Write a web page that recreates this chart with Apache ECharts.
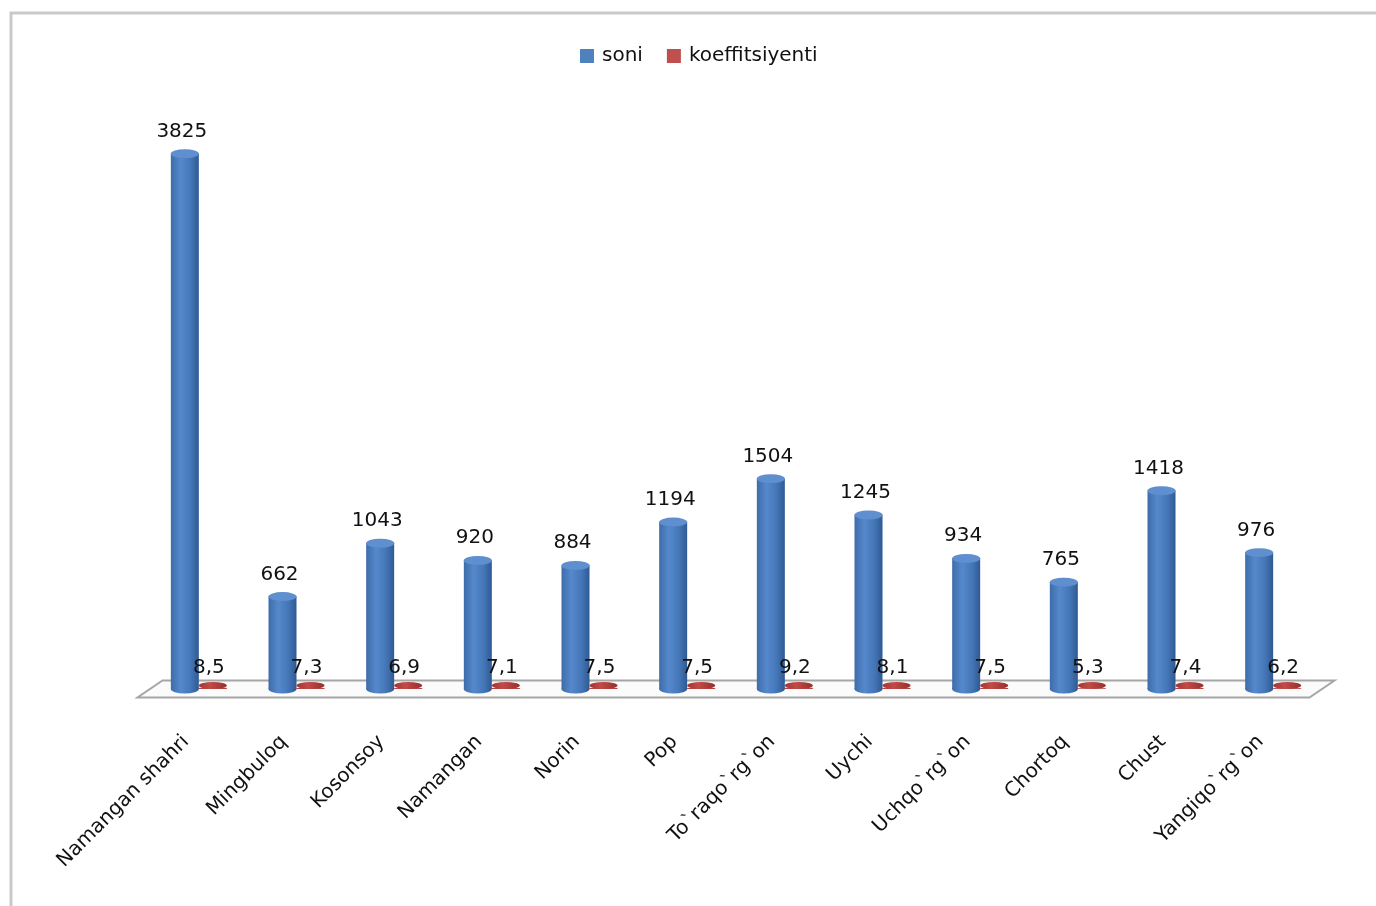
<!DOCTYPE html>
<html>
<head>
<meta charset="utf-8">
<script src="https://cdn.jsdelivr.net/npm/echarts@6/dist/echarts.min.js"></script>
<style>
html,body{margin:0;padding:0;background:#fff;}
#chart{width:1376px;height:906px;}
</style>
</head>
<body>
<div id="chart"></div>
<script>
const categories = ['Namangan shahri','Mingbuloq','Kosonsoy','Namangan','Norin','Pop','To`raqo`rg`on','Uychi','Uchqo`rg`on','Chortoq','Chust','Yangiqo`rg`on'];
const soni = [3825, 662, 1043, 920, 884, 1194, 1504, 1245, 934, 765, 1418, 976];
const koeffitsiyenti = [8.5, 7.3, 6.9, 7.1, 7.5, 7.5, 9.2, 8.1, 7.5, 5.3, 7.4, 6.2];

const FONT = '"DejaVu Sans", sans-serif';
const FS = 20;
const BW = 28;
const chart = echarts.init(document.getElementById('chart'));

const blueGrad = new echarts.graphic.LinearGradient(0,0,1,0,[
  {offset:0, color:'#3d6ca9'},
  {offset:0.35, color:'#5589cc'},
  {offset:0.7, color:'#4577b8'},
  {offset:1, color:'#2f5a93'}
]);
const redGrad = new echarts.graphic.LinearGradient(0,0,1,0,[
  {offset:0, color:'#a33532'},
  {offset:0.4, color:'#c24b48'},
  {offset:1, color:'#962f2c'}
]);

chart.setOption({
  animation:false,
  legend:{
    top:41, left:575, itemWidth:14, itemHeight:14, itemGap:24,
    textStyle:{fontFamily:FONT, fontSize:FS, color:'#111', padding:[0,0,0,3]},
    data:[{name:'soni', icon:'rect', itemStyle:{color:'#4f81bd'}},
          {name:'koeffitsiyenti', icon:'rect', itemStyle:{color:'#c0504d'}}]
  },
  grid:{left:150, right:54, top:129, bottom:217},
  xAxis:{
    type:'category', data:categories,
    axisLine:{show:false}, axisTick:{show:false},
    axisLabel:{interval:0, rotate:45, margin:37, padding:[0,18,0,0], fontFamily:FONT, fontSize:FS, color:'#111'}
  },
  yAxis:{type:'value', min:0, max:4000, show:false, splitLine:{show:false}},
  series:[
    {
      name:'soni', type:'bar', data:soni, barWidth:BW, barGap:'0%', z:3,
      itemStyle:{color:blueGrad},
      label:{show:true, position:'top', distance:12, offset:[-3,0], fontFamily:FONT, fontSize:FS, color:'#111'}
    },
    {
      name:'koeffitsiyenti', type:'bar', data:koeffitsiyenti, barWidth:BW, z:3,
      itemStyle:{color:'#b8433f'},
      label:{show:true, position:'top', distance:10, offset:[-4,0], fontFamily:FONT, fontSize:FS, color:'#111',
        formatter:p=>String(p.value).replace('.',',')}
    },
    {
      name:'soni', type:'pictorialBar', data:soni, barWidth:BW, barGap:'-100%', z:4,
      symbol:'circle', symbolSize:[BW,9], symbolPosition:'end', symbolOffset:[-BW/2,'-50%'],
      itemStyle:{color:'#5f8fcf', borderColor:'#3d6ca9', borderWidth:1}
    },
    {
      name:'soni', type:'pictorialBar', data:soni, barWidth:BW, barGap:'-100%', z:2,
      symbol:'circle', symbolSize:[BW,9], symbolPosition:'start', symbolOffset:[-BW/2,'50%'],
      itemStyle:{color:blueGrad}
    },
    {
      name:'koeffitsiyenti', type:'pictorialBar', data:koeffitsiyenti, barWidth:BW, barGap:'-100%', z:4,
      symbol:'circle', symbolSize:[BW,7], symbolPosition:'start', symbolOffset:[BW/2,'0%'],
      itemStyle:{color:redGrad}
    }
  ]
});

// decorative frame and floor, placed from the axes' own scales
const x0 = chart.convertToPixel({xAxisIndex:0}, 0);
const x1 = chart.convertToPixel({xAxisIndex:0}, 1);
const xn = chart.convertToPixel({xAxisIndex:0}, categories.length-1);
const band = x1 - x0;
const xL = x0 - band/2, xR = xn + band/2;
const y0 = chart.convertToPixel({yAxisIndex:0}, 0);
const dx = 12.5, dy = 8.5;
chart.setOption({
  graphic:[
    {type:'rect', z:0, silent:true, shape:{x:11, y:13, width:1500, height:1000},
      style:{fill:'none', stroke:'#c9c9c9', lineWidth:3}},
    {type:'polygon', z:1, silent:true,
      shape:{points:[[xL-dx, y0+dy],[xR-dx, y0+dy],[xR+dx, y0-dy],[xL+dx, y0-dy]]},
      style:{fill:'#fbfbfb', stroke:'#a6a6a6', lineWidth:2}}
  ]
});
</script>
</body>
</html>
